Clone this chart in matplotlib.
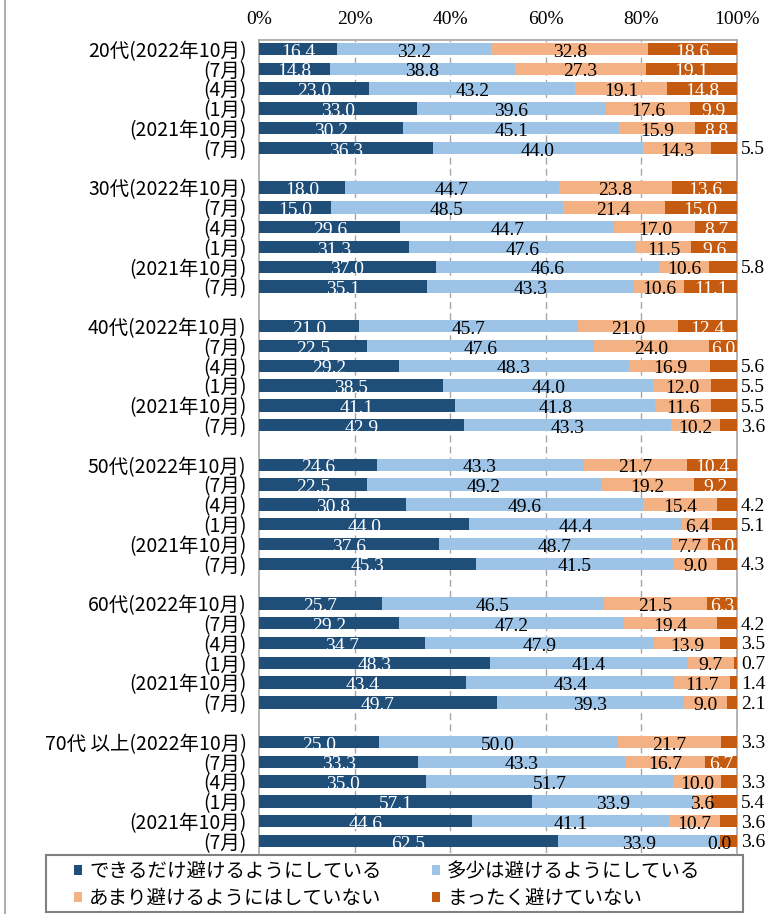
import matplotlib
matplotlib.use('Agg')
import matplotlib.pyplot as plt
from matplotlib.patches import Patch, Rectangle
from matplotlib.lines import Line2D
import numpy as np

# ---------------- data ----------------
groups = ['20代', '30代', '40代', '50代', '60代', '70代 以上']
periods = ['2022年10月', '7月', '4月', '1月', '2021年10月', '7月']
series_names = ['できるだけ避けるようにしている', '多少は避けるようにしている',
                'あまり避けるようにはしていない', 'まったく避けていない']

dekiru = [16.4, 14.8, 23.0, 33.0, 30.2, 36.3,
          18.0, 15.0, 29.6, 31.3, 37.0, 35.1,
          21.0, 22.5, 29.2, 38.5, 41.1, 42.9,
          24.6, 22.5, 30.8, 44.0, 37.6, 45.3,
          25.7, 29.2, 34.7, 48.3, 43.4, 49.7,
          25.0, 33.3, 35.0, 57.1, 44.6, 62.5]
tashou = [32.2, 38.8, 43.2, 39.6, 45.1, 44.0,
          44.7, 48.5, 44.7, 47.6, 46.6, 43.3,
          45.7, 47.6, 48.3, 44.0, 41.8, 43.3,
          43.3, 49.2, 49.6, 44.4, 48.7, 41.5,
          46.5, 47.2, 47.9, 41.4, 43.4, 39.3,
          50.0, 43.3, 51.7, 33.9, 41.1, 33.9]
amari = [32.8, 27.3, 19.1, 17.6, 15.9, 14.3,
         23.8, 21.4, 17.0, 11.5, 10.6, 10.6,
         21.0, 24.0, 16.9, 12.0, 11.6, 10.2,
         21.7, 19.2, 15.4, 6.4, 7.7, 9.0,
         21.5, 19.4, 13.9, 9.7, 11.7, 9.0,
         21.7, 16.7, 10.0, 3.6, 10.7, 0.0]
mattaku = [18.6, 19.1, 14.8, 9.9, 8.8, 5.5,
           13.6, 15.0, 8.7, 9.6, 5.8, 11.1,
           12.4, 6.0, 5.6, 5.5, 5.5, 3.6,
           10.4, 9.2, 4.2, 5.1, 6.0, 4.3,
           6.3, 4.2, 3.5, 0.7, 1.4, 2.1,
           3.3, 6.7, 3.3, 5.4, 3.6, 3.6]

colors = ['#1F4E79', '#9DC3E6', '#F4B183', '#C55A11']
label_colors = ['white', 'black', 'black', 'white']

# ---------------- layout ----------------
W, H = 769, 914
fig = plt.figure(figsize=(W / 100, H / 100), dpi=100)
ax_left, ax_right, ax_top, ax_bot = 259, 737, 40, 853
ax = fig.add_axes([ax_left / W, 1 - ax_bot / H, (ax_right - ax_left) / W, (ax_bot - ax_top) / H])

positions = []
ylabels = []
for gi, g in enumerate(groups):
    for ri, p in enumerate(periods):
        positions.append(gi * 7 + ri)
        if ri == 0:
            ylabels.append(f'{g}({p})')
        else:
            ylabels.append(f'({p})')
positions = np.array(positions, dtype=float)

series = [np.array(dekiru), np.array(tashou), np.array(amari), np.array(mattaku)]
left = np.zeros(len(positions))
bar_h = 0.63
serif = ['Liberation Serif', 'DejaVu Serif']
for si, vals in enumerate(series):
    ax.barh(positions, vals, left=left, height=bar_h, color=colors[si],
            edgecolor='none', zorder=3, label=series_names[si])
    for y, l, v in zip(positions, left, vals):
        if si == 3 and v < 6:
            ax.text(100.8, y + 0.1, f'{v:.1f}', ha='left', va='center',
                    fontsize=14, family=serif, color='black', zorder=5, clip_on=False)
        else:
            ax.text(l + v / 2, y + 0.16, f'{v:.1f}', ha='center', va='center',
                    fontsize=14, family=serif, color=label_colors[si], zorder=5)
    left = left + vals

ax.set_xlim(0, 100)
ax.set_ylim(40 + 0.606, -0.455)

ax.set_xticks([0, 20, 40, 60, 80, 100])
ax.set_xticklabels(['0%', '20%', '40%', '60%', '80%', '100%'], family=serif, fontsize=14)
ax.xaxis.set_ticks_position('top')
ax.tick_params(axis='x', length=0, pad=9, labeltop=True, labelbottom=False)

ax.set_yticks(positions)
ax.set_yticklabels(ylabels, family=['Noto Sans CJK JP', 'DejaVu Sans'], fontsize=14)
ax.tick_params(axis='y', length=0, pad=9)

for xv in [20, 40, 60, 80]:
    ax.axvline(xv, color='#A6A6A6', lw=1.0, ls=(0, (5, 3)), zorder=1)

for side in ['left', 'top', 'right']:
    ax.spines[side].set_color('#A6A6A6')
    ax.spines[side].set_linewidth(1.2)
ax.spines['bottom'].set_visible(False)

# left border of chart area
fig.add_artist(Line2D([5 / W, 5 / W], [0, 1], color='#A0A0A0', lw=1.2,
                      transform=fig.transFigure))

# legend box (drawn separately)
box = Rectangle((46 / W, 1 - 912 / H), (743 - 46) / W, (912 - 855) / H,
                transform=fig.transFigure, facecolor='white', edgecolor='#808080',
                lw=1.5, zorder=9)
fig.add_artist(box)

handles = [Patch(facecolor=c, edgecolor='none') for c in colors]
order = [0, 2, 1, 3]
leg = fig.legend([handles[i] for i in order], [series_names[i] for i in order],
                 ncol=2, loc='upper left',
                 bbox_to_anchor=(74 / W, 1 - 861 / H),
                 frameon=False,
                 prop={'family': ['Noto Sans CJK JP', 'DejaVu Sans'], 'size': 14},
                 handlelength=0.42, handleheight=0.42, handletextpad=0.35,
                 borderpad=0.0, labelspacing=0.3, borderaxespad=0,
                 columnspacing=2.6)
leg.set_zorder(10)

fig.savefig('out.png', dpi=100)
